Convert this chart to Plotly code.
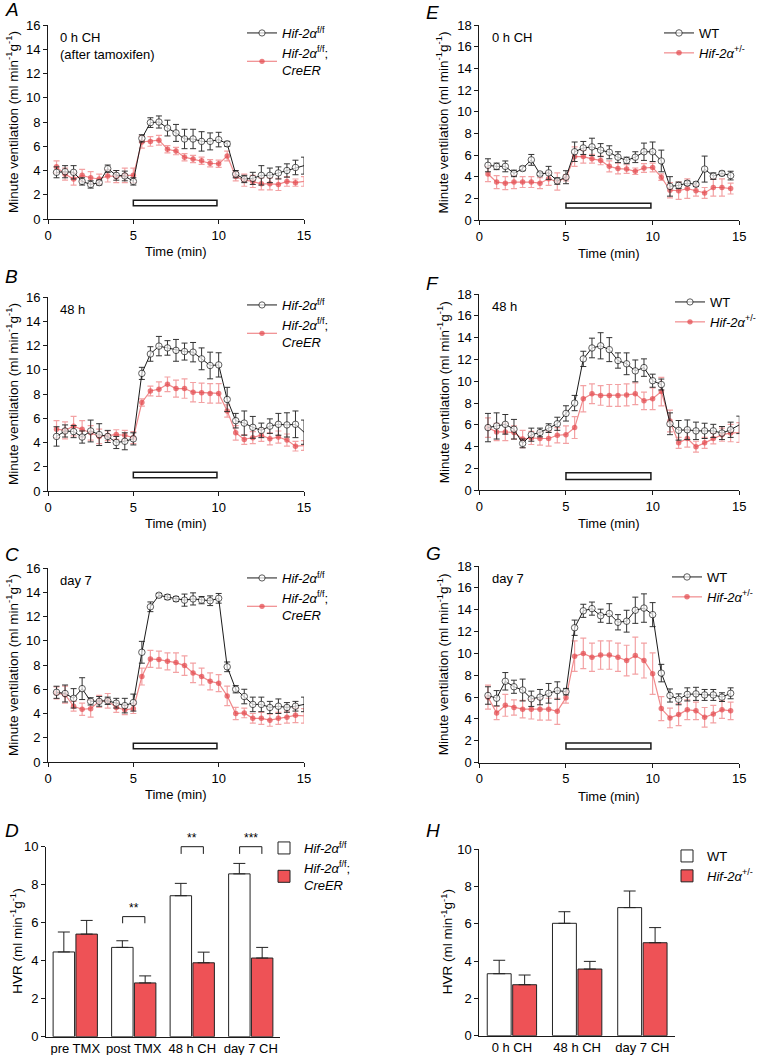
import plotly.graph_objects as go

FONT = "Liberation Sans, Arial, Helvetica, sans-serif"
BLACK = "#1a1a1a"
RED_MK = "#e2474c"
RED_LN = "#f08a8c"
RED_ER = "#f3a2a4"
RED_BAR = "#ee5256"

# ---------------- data ----------------
t_30 = [0.5, 1.0, 1.5, 2.0, 2.5, 3.0, 3.5, 4.0, 4.5, 5.0, 5.5, 6.0, 6.5, 7.0, 7.5,
        8.0, 8.5, 9.0, 9.5, 10.0, 10.5, 11.0, 11.5, 12.0, 12.5, 13.0, 13.5, 14.0, 14.5, 15.0]
t_29 = [0.5, 1.0, 1.5, 2.0, 2.5, 3.0, 3.5, 4.0, 4.5, 5.0, 5.5, 6.0, 6.5, 7.0, 7.5,
        8.0, 8.5, 9.0, 9.5, 10.0, 10.5, 11.0, 11.5, 12.0, 12.5, 13.0, 13.5, 14.0, 14.5]
hypoxia_window = [5.0, 9.9]

# Panel A: 0 h CH (after tamoxifen)
A_ff = [3.85, 3.9, 3.85, 3.1, 2.85, 3.0, 4.15, 3.6, 3.55, 3.1, 6.65, 7.95, 8.0, 7.5, 7.1,
        6.6, 6.6, 6.4, 6.4, 6.55, 6.2, 3.7, 3.3, 3.35, 3.6, 3.6, 3.8, 4.0, 4.25, 4.4]
A_ff_err = [0.45, 0.5, 0.55, 0.3, 0.3, 0.2, 0.3, 0.4, 0.4, 0.3, 0.3, 0.4, 0.5, 0.65, 0.7,
            0.8, 0.8, 0.8, 0.7, 0.6, 0.2, 0.3, 0.3, 0.5, 0.8, 0.6, 0.5, 0.55, 0.6, 0.7]
A_cre = [4.3, 3.7, 3.3, 3.6, 3.4, 3.3, 3.55, 3.5, 3.6, 3.6, 6.35, 6.4, 6.5, 5.75, 5.6,
         5.1, 4.95, 4.8, 4.6, 4.55, 5.2, 3.5, 3.2, 3.1, 2.9, 2.9, 2.85, 3.1, 3.0, 3.1]
A_cre_err = [0.5, 0.5, 0.5, 0.5, 0.5, 0.4, 0.5, 0.5, 0.6, 0.6, 0.5, 0.4, 0.4, 0.3, 0.3,
             0.3, 0.3, 0.3, 0.3, 0.3, 0.4, 0.35, 0.5, 0.5, 0.5, 0.5, 0.5, 0.4, 0.3, 0.4]

# Panel B: 48 h
B_ff = [4.5, 4.95, 4.9, 4.45, 4.95, 4.65, 4.5, 4.0, 4.1, 4.3, 9.7, 11.3, 11.95, 11.8, 11.6,
        11.5, 11.45, 10.9, 10.35, 10.4, 7.55, 5.8, 5.6, 5.25, 5.0, 5.35, 5.5, 5.45, 5.5, 4.85]
B_ff_err = [0.8, 0.5, 0.5, 0.5, 0.9, 0.9, 0.5, 0.5, 0.7, 0.5, 0.5, 0.6, 0.8, 0.6, 0.9,
            0.7, 0.8, 0.9, 1.1, 1.0, 1.0, 0.6, 1.0, 0.9, 0.6, 0.6, 0.9, 1.0, 1.1, 1.0]
B_cre = [5.1, 5.0, 5.35, 5.1, 4.8, 4.5, 4.55, 4.65, 4.6, 4.4, 7.3, 8.25, 8.4, 8.8, 8.45,
         8.45, 8.15, 8.1, 8.05, 8.05, 6.6, 4.8, 4.25, 4.4, 4.6, 4.3, 4.45, 4.2, 3.7, 3.75]
B_cre_err = [0.7, 0.7, 0.8, 0.7, 0.6, 0.6, 0.4, 0.4, 0.4, 0.5, 0.3, 0.4, 0.6, 0.6, 0.7,
             0.8, 0.8, 0.8, 0.8, 0.8, 0.5, 0.6, 0.4, 0.5, 0.5, 0.5, 0.5, 0.5, 0.4, 0.4]

# Panel C: day 7
C_ff = [5.75, 5.65, 5.25, 6.05, 5.0, 5.0, 5.05, 4.85, 4.65, 4.9, 9.05, 12.8, 13.75, 13.6, 13.45,
        13.35, 13.45, 13.35, 13.3, 13.5, 7.85, 6.0, 5.4, 4.75, 4.75, 4.5, 4.6, 4.5, 4.6, 4.75]
C_ff_err = [0.5, 0.7, 0.8, 0.9, 0.3, 0.4, 0.3, 0.4, 0.6, 0.7, 0.9, 0.4, 0.15, 0.2, 0.2,
            0.5, 0.5, 0.3, 0.4, 0.4, 0.4, 0.3, 0.6, 0.6, 0.6, 0.5, 0.6, 0.4, 0.4, 0.6]
C_cre = [5.7, 5.55, 4.6, 4.35, 4.4, 5.0, 5.05, 4.5, 4.3, 4.4, 7.05, 8.5, 8.45, 8.3, 8.2,
         7.95, 7.35, 7.05, 6.65, 6.5, 5.45, 4.0, 4.05, 3.6, 3.6, 3.45, 3.6, 3.7, 3.85, 3.8]
C_cre_err = [0.5, 0.7, 0.4, 0.5, 0.7, 0.5, 0.6, 0.4, 0.4, 0.4, 0.7, 0.7, 0.7, 0.7, 0.8,
             0.8, 0.8, 0.7, 0.7, 0.7, 0.8, 0.5, 0.4, 0.4, 0.5, 0.5, 0.5, 0.5, 0.6, 0.6]

# Panel E: 0 h CH (WT vs Hif-2a+/-)
E_wt = [5.05, 4.95, 4.95, 4.3, 4.75, 5.55, 4.25, 4.35, 3.6, 3.95, 6.3, 6.65, 6.75, 6.45, 6.25,
        5.8, 5.5, 5.8, 6.3, 6.3, 5.45, 3.1, 3.2, 3.4, 3.3, 4.7, 4.05, 4.3, 4.1]
E_wt_err = [0.6, 0.3, 0.5, 0.3, 0.2, 0.5, 0.15, 0.6, 0.3, 0.6, 0.9, 0.6, 0.8, 0.6, 0.6,
            0.5, 0.3, 0.5, 0.8, 0.9, 1.0, 0.9, 0.3, 0.2, 0.2, 1.2, 0.3, 0.2, 0.4]
E_het = [4.25, 3.5, 3.4, 3.5, 3.5, 3.5, 3.4, 3.8, 3.55, 3.9, 5.85, 5.85, 5.65, 5.5, 4.95,
         4.75, 4.7, 4.5, 4.8, 4.85, 3.95, 2.75, 2.7, 2.9, 2.7, 2.5, 3.0, 3.0, 2.9]
E_het_err = [0.7, 0.6, 0.6, 0.6, 0.5, 0.5, 0.5, 0.6, 0.8, 0.3, 0.9, 0.6, 0.4, 0.4, 0.5,
             0.5, 0.4, 0.3, 0.4, 0.4, 0.3, 0.7, 0.8, 0.9, 0.5, 0.5, 0.8, 0.8, 0.5]

# Panel F: 48 h
F_wt = [5.75, 5.9, 6.05, 5.6, 4.3, 5.1, 5.3, 5.7, 6.1, 7.05, 8.0, 12.05, 13.05, 13.25, 12.9,
        11.9, 11.6, 10.95, 11.25, 10.05, 9.7, 6.1, 5.5, 5.55, 5.45, 5.45, 5.45, 5.25, 5.55, 6.0]
F_wt_err = [1.3, 1.2, 0.9, 0.9, 0.4, 0.6, 0.4, 0.4, 0.6, 0.7, 0.7, 0.7, 0.9, 1.2, 1.1,
            0.7, 1.0, 1.0, 0.8, 0.6, 0.5, 1.0, 0.9, 0.9, 0.8, 0.7, 0.6, 0.6, 0.7, 0.8]
F_het = [5.75, 5.35, 5.35, 5.3, 4.7, 4.8, 4.75, 4.75, 5.05, 5.1, 5.75, 8.4, 8.85, 8.7, 8.7,
         8.7, 8.75, 8.85, 8.2, 8.4, 9.05, 6.35, 4.35, 4.75, 4.0, 4.35, 4.75, 5.1, 5.25, 5.3]
F_het_err = [0.9, 0.8, 0.8, 0.6, 0.8, 0.6, 0.6, 0.7, 0.7, 0.8, 1.0, 1.2, 0.9, 0.9, 1.0,
             1.0, 1.0, 1.0, 0.8, 1.0, 1.3, 1.0, 0.5, 0.8, 0.5, 0.5, 0.5, 0.6, 0.8, 0.9]

# Panel G: day 7
G_wt = [6.15, 5.9, 7.45, 6.95, 6.65, 5.85, 6.0, 6.35, 6.6, 6.5, 12.35, 13.9, 14.1, 13.45, 13.65,
        12.85, 12.95, 13.95, 14.15, 13.55, 8.2, 6.15, 5.8, 6.25, 6.3, 6.2, 6.2, 6.0, 6.35]
G_wt_err = [0.8, 0.7, 0.8, 0.6, 1.0, 0.7, 0.7, 0.9, 0.8, 0.3, 0.7, 0.6, 0.6, 0.6, 0.9,
            0.7, 1.0, 1.2, 1.3, 1.1, 0.8, 0.6, 0.5, 0.6, 0.6, 0.5, 0.5, 0.4, 0.5]
G_het = [6.0, 4.55, 5.25, 5.05, 4.9, 4.9, 4.9, 4.9, 4.7, 5.95, 9.75, 10.0, 9.65, 9.85, 9.85,
         9.65, 9.35, 9.8, 9.35, 8.15, 4.95, 4.1, 4.4, 4.85, 4.75, 4.15, 4.45, 4.85, 4.75]
G_het_err = [1.1, 0.6, 1.0, 0.7, 0.8, 0.9, 1.0, 1.0, 1.2, 0.5, 1.4, 1.4, 1.3, 1.3, 1.3,
             1.3, 1.4, 1.7, 1.6, 1.9, 1.1, 0.9, 1.0, 0.9, 0.8, 0.9, 0.8, 0.8, 0.8]

# Panel D: HVR, Hif-2a f/f vs f/f;CreER
D_cats = ["pre TMX", "post TMX", "48 h CH", "day 7 CH"]
D_ff = [4.46, 4.7, 7.42, 8.57]
D_ff_err = [1.05, 0.35, 0.65, 0.55]
D_cre = [5.4, 2.83, 3.89, 4.14]
D_cre_err = [0.72, 0.37, 0.56, 0.56]
D_sig = [("post TMX", "**", 6.32, 5.97), ("48 h CH", "**", 10.0, 9.62), ("day 7 CH", "***", 10.0, 9.62)]

# Panel H: HVR, WT vs Hif-2a+/-
H_cats = ["0 h CH", "48 h CH", "day 7 CH"]
H_wt = [3.32, 6.02, 6.86]
H_wt_err = [0.72, 0.62, 0.89]
H_het = [2.73, 3.57, 4.98]
H_het_err = [0.52, 0.41, 0.81]

# ---------------- layout helpers ----------------
W, H = 760, 1055
FS = 13


def xd(a, b):
    return [a / W, b / W]


def yd(top, bottom):
    return [1 - bottom / H, 1 - top / H]


def axid(letter, n):
    return letter if n == 1 else f"{letter}{n}"


def leg_name(n):
    return "legend" if n == 1 else f"legend{n}"


NAME_FF = "<i>Hif-2α</i><sup>f/f</sup>"
NAME_CRE = "<i>Hif-2α</i><sup>f/f</sup>;<br><i>CreER</i>"
NAME_WT = "WT"
NAME_HET = "<i>Hif-2α</i><sup>+/-</sup>"

line_panels = [
    dict(n=1, t=t_30, k=A_ff, ke=A_ff_err, r=A_cre, re=A_cre_err, names=(NAME_FF, NAME_CRE),
         xdom=(48, 304), ydom=(25, 219), ymax=16, inset="0 h CH<br>(after tamoxifen)", hyp=(1.1, 1.55),
         hide_last=True, leg=(242, 18)),
    dict(n=2, t=t_30, k=B_ff, ke=B_ff_err, r=B_cre, re=B_cre_err, names=(NAME_FF, NAME_CRE),
         xdom=(48, 304), ydom=(297, 491), ymax=16, inset="48 h", hyp=(1.1, 1.55),
         hide_last=True, leg=(242, 290)),
    dict(n=3, t=t_30, k=C_ff, ke=C_ff_err, r=C_cre, re=C_cre_err, names=(NAME_FF, NAME_CRE),
         xdom=(48, 304), ydom=(568, 762), ymax=16, inset="day 7", hyp=(1.1, 1.55),
         hide_last=True, leg=(242, 563)),
    dict(n=5, t=t_29, k=E_wt, ke=E_wt_err, r=E_het, re=E_het_err, names=(NAME_WT, NAME_HET),
         xdom=(479.3, 739.3), ydom=(25, 220), ymax=18, inset="0 h CH", hyp=(1.1, 1.55),
         hide_last=False, leg=(659, 18)),
    dict(n=6, t=t_30, k=F_wt, ke=F_wt_err, r=F_het, re=F_het_err, names=(NAME_WT, NAME_HET),
         xdom=(479.3, 739.3), ydom=(294, 490.3), ymax=18, inset="48 h", hyp=(1.0, 1.6),
         hide_last=True, leg=(670, 287)),
    dict(n=7, t=t_29, k=G_wt, ke=G_wt_err, r=G_het, re=G_het_err, names=(NAME_WT, NAME_HET),
         xdom=(479.3, 739.3), ydom=(566, 762.7), ymax=18, inset="day 7", hyp=(1.25, 1.8),
         hide_last=False, leg=(667, 562)),
]

bar_panels = [
    dict(n=4, cats=D_cats, k=D_ff, ke=D_ff_err, r=D_cre, re=D_cre_err, names=(NAME_FF, NAME_CRE),
         xdom=(46, 280), ydom=(846.7, 1036.7), leg=(264, 833), sig=D_sig),
    dict(n=8, cats=H_cats, k=H_wt, ke=H_wt_err, r=H_het, re=H_het_err, names=(NAME_WT, NAME_HET),
         xdom=(479.3, 675), ydom=(849, 1035.7), leg=(667, 841), sig=[]),
]

fig = go.Figure()
layout = dict(
    width=W, height=H, autosize=False,
    margin=dict(l=0, r=0, t=0, b=0, pad=0, autoexpand=False),
    paper_bgcolor="white", plot_bgcolor="white",
    font=dict(family=FONT, size=FS, color="black"),
    bargap=0.22, bargroupgap=0.06, barmode="group",
    annotations=[], shapes=[],
)

axis_common = dict(showline=True, linecolor=BLACK, linewidth=1, ticks="outside", ticklen=4,
                   tickwidth=1, tickcolor=BLACK, showgrid=False, zeroline=False, automargin=False,
                   tickfont=dict(family=FONT, size=FS, color="black"))

for p in line_panels:
    n = p["n"]
    xs, ys = axid("x", n), axid("y", n)
    sizes_k = [6.5] * len(p["t"])
    sizes_r = [5.5] * len(p["t"])
    if p["hide_last"]:
        sizes_k[-1] = 0
        sizes_r[-1] = 0
    fig.add_trace(go.Scatter(
        x=p["t"], y=p["r"], mode="lines+markers", name=p["names"][1], xaxis=xs, yaxis=ys,
        line=dict(color=RED_LN, width=1.2),
        marker=dict(color=RED_MK, size=sizes_r, symbol="circle", line=dict(width=0)),
        error_y=dict(type="data", array=p["re"], color=RED_ER, thickness=1.2, width=3),
        cliponaxis=False, legend=leg_name(n), legendrank=2, showlegend=True))
    fig.add_trace(go.Scatter(
        x=p["t"], y=p["k"], mode="lines+markers", name=p["names"][0], xaxis=xs, yaxis=ys,
        line=dict(color=BLACK, width=1),
        marker=dict(color="white", size=sizes_k, symbol="circle", line=dict(color=BLACK, width=1)),
        error_y=dict(type="data", array=p["ke"], color="#333333", thickness=1, width=3),
        cliponaxis=False, legend=leg_name(n), legendrank=1, showlegend=True))
    layout[axid("xaxis", n)] = dict(axis_common, domain=xd(*p["xdom"]), range=[0, 15],
                                    tickvals=[0, 5, 10, 15], anchor=ys)
    layout[axid("yaxis", n)] = dict(axis_common, domain=yd(*p["ydom"]), range=[0, p["ymax"]],
                                    dtick=2, anchor=xs)
    layout["shapes"].append(dict(type="rect", xref=xs, yref=ys, x0=hypoxia_window[0], x1=hypoxia_window[1],
                                 y0=p["hyp"][0], y1=p["hyp"][1], line=dict(color=BLACK, width=1.5),
                                 fillcolor="white", layer="above"))

for p in bar_panels:
    n = p["n"]
    xs, ys = axid("x", n), axid("y", n)
    fig.add_trace(go.Bar(
        x=p["cats"], y=p["k"], name=p["names"][0], xaxis=xs, yaxis=ys,
        marker=dict(color="white", line=dict(color="#222222", width=1)),
        error_y=dict(type="data", array=p["ke"], arrayminus=[0] * len(p["ke"]), symmetric=False,
                     color="#222222", thickness=1, width=6),
        legend=leg_name(n), legendrank=1))
    fig.add_trace(go.Bar(
        x=p["cats"], y=p["r"], name=p["names"][1], xaxis=xs, yaxis=ys,
        marker=dict(color=RED_BAR, line=dict(color="#222222", width=1)),
        error_y=dict(type="data", array=p["re"], arrayminus=[0] * len(p["re"]), symmetric=False,
                     color="#222222", thickness=1, width=6),
        legend=leg_name(n), legendrank=2))
    layout[axid("xaxis", n)] = dict(axis_common, domain=xd(*p["xdom"]), ticks="", anchor=ys, type="category")
    layout[axid("yaxis", n)] = dict(axis_common, domain=yd(*p["ydom"]), range=[0, 10], dtick=2, anchor=xs)
    for cat, stars, top, leg in p["sig"]:
        i = p["cats"].index(cat)
        for (x0, y0, x1, y1) in [(i - 0.19, leg, i - 0.19, top), (i - 0.19, top, i + 0.19, top),
                                 (i + 0.19, top, i + 0.19, leg)]:
            layout["shapes"].append(dict(type="line", xref=xs, yref=f"{ys} domain",
                                         x0=x0, x1=x1, y0=y0 / 10, y1=y1 / 10,
                                         line=dict(color=BLACK, width=1)))
        layout["annotations"].append(dict(x=cat, y=top, xref=xs, yref=ys, text=stars, showarrow=False,
                                          yanchor="bottom", yshift=0, font=dict(size=12, family=FONT)))

for p in line_panels + bar_panels:
    n = p["n"]
    lx, ly = p["leg"]
    layout[leg_name(n)] = dict(x=lx / W, y=1 - ly / H, xanchor="left", yanchor="top",
                               bgcolor="rgba(0,0,0,0)", borderwidth=0, itemwidth=30,
                               font=dict(family=FONT, size=FS, color="black"),
                               tracegroupgap=0, itemclick=False)

letters = [("A", 3, 10), ("B", 3, 277), ("C", 3, 554), ("D", 3, 830),
           ("E", 424, 12), ("F", 424, 283), ("G", 424, 553), ("H", 424, 830)]
for txt, x, y in letters:
    layout["annotations"].append(dict(x=x / W, y=1 - y / H, xref="paper", yref="paper", text=f"<i>{txt}</i>",
                                      showarrow=False, xanchor="left", yanchor="middle",
                                      font=dict(size=19, family=FONT)))

YT_MV = "Minute ventilation (ml min<sup>-1</sup>g<sup>-1</sup>)"
YT_HVR = "HVR (ml min<sup>-1</sup>g<sup>-1</sup>)"
for p in line_panels:
    n = p["n"]
    xs, ys = axid("x", n), axid("y", n)
    layout["annotations"].append(dict(x=0.04, y=0.985, xref=f"{xs} domain", yref=f"{ys} domain",
                                      text=p["inset"], showarrow=False, xanchor="left", yanchor="top",
                                      align="left", font=dict(size=FS, family=FONT)))
    xl = 12 if p["xdom"][0] < 100 else 443
    layout["annotations"].append(dict(x=xl / W, y=0.5, xref="paper", yref=f"{ys} domain", text=YT_MV,
                                      textangle=-90, showarrow=False, xanchor="center", yanchor="middle",
                                      font=dict(size=13.5, family=FONT)))
    layout["annotations"].append(dict(x=0.5, y=-0.17, xref=f"{xs} domain", yref=f"{ys} domain",
                                      text="Time (min)", showarrow=False, xanchor="center", yanchor="middle",
                                      font=dict(size=FS, family=FONT)))
for p in bar_panels:
    n = p["n"]
    ys = axid("y", n)
    xl = 16 if p["xdom"][0] < 100 else 447
    layout["annotations"].append(dict(x=xl / W, y=0.5, xref="paper", yref=f"{ys} domain", text=YT_HVR,
                                      textangle=-90, showarrow=False, xanchor="center", yanchor="middle",
                                      font=dict(size=13.5, family=FONT)))

fig.update_layout(**layout)
fig.write_html("out.html",
               config={"displayModeBar": False, "staticPlot": True},
               post_script="document.body.style.margin='0';document.body.style.padding='0';"
                           "document.body.style.overflow='hidden';")
